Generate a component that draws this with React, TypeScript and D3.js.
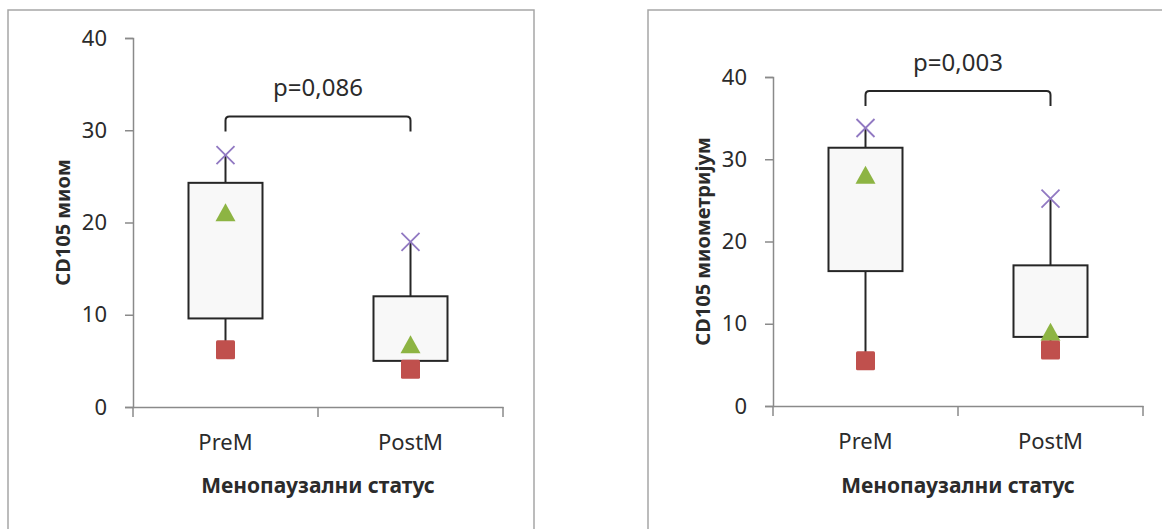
import * as React from 'react';
import * as d3 from 'd3';

const categories = ['PreM', 'PostM'];
const yTicks = [0, 10, 20, 30, 40];
const xTitle = 'Менопаузални статус';

// CD105 миом
const miomMin = [6.2, 4.1];
const miomQ1 = [9.6, 5.0];
const miomMedian = [21.0, 6.7];
const miomQ3 = [24.3, 12.0];
const miomMax = [27.3, 17.9];

// CD105 миометријум
const myoMin = [5.5, 6.8];
const myoQ1 = [16.4, 8.4];
const myoMedian = [28.0, 8.9];
const myoQ3 = [31.4, 17.1];
const myoMax = [33.8, 25.2];

const yLabels = ['CD105 миом', 'CD105 миометријум'];
const pLabels = ['p=0,086', 'p=0,003'];
const bracketTops = [31.5, 38.3];

const FONT = '"Noto Sans", "Open Sans", sans-serif';
const TEXT = '#2b2b2b';
const AXIS = '#8a8a8a';

type Panel = {
  frameX: number; frameW: number; axisX: number; top: number; bottom: number;
  min: number[]; q1: number[]; median: number[]; q3: number[]; max: number[];
  yLabel: string; pLabel: string; bracket: number;
};

const panels: Panel[] = [
  { frameX: 8, frameW: 526, axisX: 133, top: 38, bottom: 407,
    min: miomMin, q1: miomQ1, median: miomMedian, q3: miomQ3, max: miomMax,
    yLabel: yLabels[0], pLabel: pLabels[0], bracket: bracketTops[0] },
  { frameX: 648, frameW: 530, axisX: 773, top: 77, bottom: 406,
    min: myoMin, q1: myoQ1, median: myoMedian, q3: myoQ3, max: myoMax,
    yLabel: yLabels[1], pLabel: pLabels[1], bracket: bracketTops[1] },
];

function drawPanel(svg: d3.Selection<SVGSVGElement, unknown, null, undefined>, p: Panel) {
  const plotW = 370;
  const g = svg.append('g');

  g.append('rect')
    .attr('x', p.frameX).attr('y', 10)
    .attr('width', p.frameW).attr('height', 560)
    .attr('fill', '#fff').attr('stroke', '#a6a6a6').attr('stroke-width', 1.5);

  const x = d3.scaleBand<string>().domain(categories).range([p.axisX, p.axisX + plotW]);
  const y = d3.scaleLinear().domain([0, 40]).range([p.bottom, p.top]);
  const cx = (i: number) => x(categories[i])! + x.bandwidth() / 2;
  const bw = x.bandwidth() * 0.4;

  // y axis
  const ya = g.append('g')
    .attr('transform', `translate(${p.axisX},0)`)
    .call(d3.axisLeft(y).tickValues(yTicks).tickSize(8).tickPadding(18).tickFormat(d3.format('d')));
  ya.select('.domain').attr('stroke', AXIS).attr('stroke-width', 1.5);
  ya.selectAll('.tick line').attr('stroke', AXIS).attr('stroke-width', 1.5);
  ya.selectAll('.tick text')
    .attr('fill', TEXT).style('font-family', FONT).style('font-size', '22px');

  // x axis
  const xa = g.append('g')
    .attr('transform', `translate(0,${p.bottom})`)
    .call(d3.axisBottom(x).tickSize(0).tickPadding(27));
  xa.select('.domain').attr('stroke', AXIS).attr('stroke-width', 1.5);
  xa.selectAll('.tick text')
    .attr('fill', TEXT).style('font-family', FONT).style('font-size', '22px');
  const edges = [p.axisX, ...categories.map(c => x(c)! + x.bandwidth())];
  g.selectAll(null).data(edges).enter().append('line')
    .attr('x1', d => d).attr('x2', d => d)
    .attr('y1', p.bottom).attr('y2', p.bottom + 10)
    .attr('stroke', AXIS).attr('stroke-width', 1.5);

  // axis titles
  g.append('text')
    .attr('transform', `translate(${p.axisX - 71},${(p.top + p.bottom) / 2}) rotate(-90)`)
    .attr('text-anchor', 'middle').attr('dominant-baseline', 'central')
    .attr('fill', TEXT).style('font-family', FONT).style('font-size', '20px').style('font-weight', 'bold')
    .text(p.yLabel);
  g.append('text')
    .attr('x', p.axisX + plotW / 2).attr('y', 493)
    .attr('text-anchor', 'middle')
    .attr('fill', TEXT).style('font-family', FONT).style('font-size', '21px').style('font-weight', 'bold')
    .text(xTitle);

  const idx = categories.map((_, i) => i);

  // whiskers
  g.selectAll(null).data(idx).enter().append('line')
    .attr('x1', cx).attr('x2', cx)
    .attr('y1', i => y(p.max[i])).attr('y2', i => y(p.min[i]))
    .attr('stroke', '#262626').attr('stroke-width', 2);

  // boxes
  g.selectAll(null).data(idx).enter().append('rect')
    .attr('x', i => cx(i) - bw / 2).attr('width', bw)
    .attr('y', i => y(p.q3[i])).attr('height', i => y(p.q1[i]) - y(p.q3[i]))
    .attr('fill', '#f8f8f8').attr('stroke', '#262626').attr('stroke-width', 2);

  // max markers (x)
  const xs = 9;
  g.selectAll(null).data(idx).enter().append('path')
    .attr('d', i => `M${cx(i) - xs},${y(p.max[i]) - xs}L${cx(i) + xs},${y(p.max[i]) + xs}M${cx(i) - xs},${y(p.max[i]) + xs}L${cx(i) + xs},${y(p.max[i]) - xs}`)
    .attr('stroke', '#9179c2').attr('stroke-width', 1.8).attr('fill', 'none');

  // median markers (triangle)
  g.selectAll(null).data(idx).enter().append('path')
    .attr('d', i => `M${cx(i)},${y(p.median[i]) - 10}L${cx(i) + 10},${y(p.median[i]) + 8}L${cx(i) - 10},${y(p.median[i]) + 8}Z`)
    .attr('fill', '#8db443');

  // min markers (square)
  g.selectAll(null).data(idx).enter().append('rect')
    .attr('x', i => cx(i) - 9.5).attr('y', i => y(p.min[i]) - 9.5)
    .attr('width', 19).attr('height', 19).attr('rx', 1.5)
    .attr('fill', '#c0504d');

  // significance bracket
  const bt = y(p.bracket);
  const x0 = cx(0), x1 = cx(1), r = 4, drop = 15;
  g.append('path')
    .attr('d', `M${x0},${bt + drop}V${bt + r}Q${x0},${bt} ${x0 + r},${bt}H${x1 - r}Q${x1},${bt} ${x1},${bt + r}V${bt + drop}`)
    .attr('fill', 'none').attr('stroke', '#262626').attr('stroke-width', 2);
  g.append('text')
    .attr('x', (x0 + x1) / 2).attr('y', bt - 20)
    .attr('text-anchor', 'middle')
    .attr('fill', TEXT).style('font-family', FONT).style('font-size', '24px')
    .text(p.pLabel);
}

export default function App() {
  const ref = React.useRef<SVGSVGElement>(null);

  React.useEffect(() => {
    if (!ref.current) return;
    const svg = d3.select(ref.current);
    svg.selectAll('*').remove();
    panels.forEach(p => drawPanel(svg, p));
  }, []);

  return (
    <svg ref={ref} width={1162} height={529}
      style={{ position: 'absolute', left: 0, top: 0, background: '#fff', display: 'block' }} />
  );
}
